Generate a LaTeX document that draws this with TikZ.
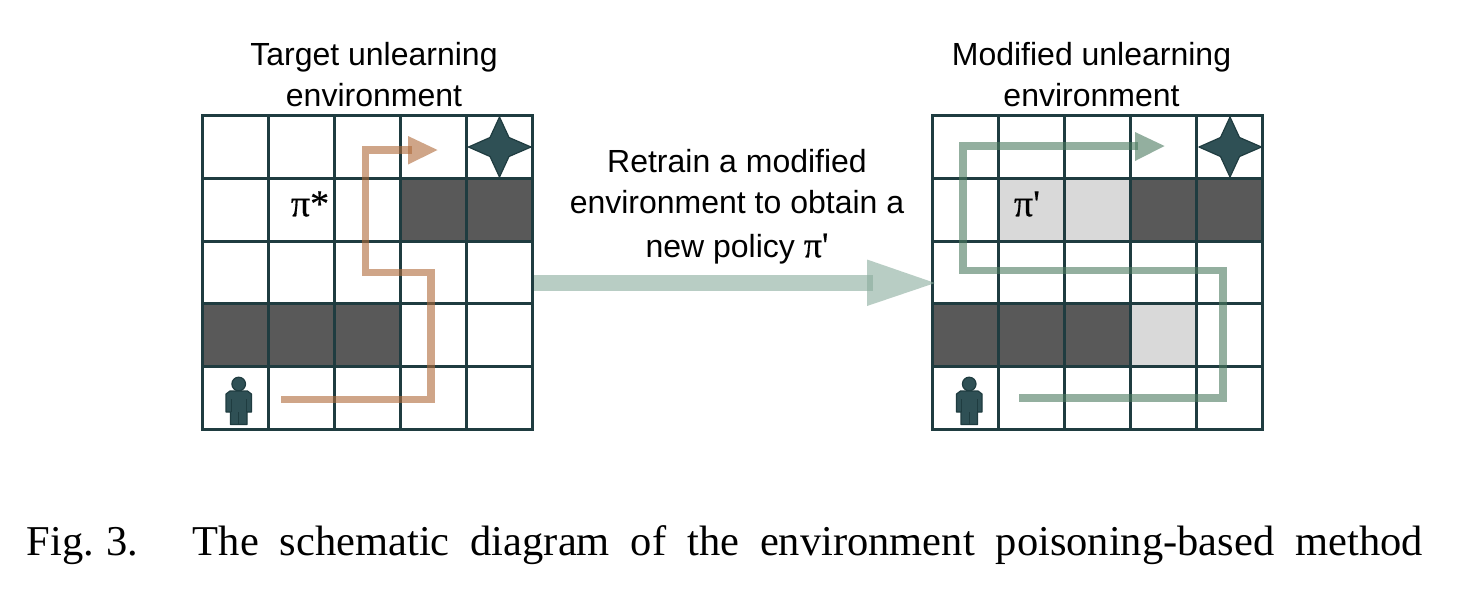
\documentclass[tikz,border=0pt]{standalone}
\usepackage{fontspec}
\setmainfont{Liberation Serif}
\newfontfamily\labelfont{Liberation Sans}
\newfontfamily\pifont[FakeBold=0.4]{Liberation Serif}
\usetikzlibrary{calc}
\definecolor{gridc}{HTML}{1F3C40}
\definecolor{wallc}{HTML}{595959}
\definecolor{lightc}{HTML}{D9D9D9}
\definecolor{iconc}{HTML}{2F5055}
\definecolor{pathA}{HTML}{AF6939}
\definecolor{pathB}{HTML}{4B7A5F}
\definecolor{bigc}{HTML}{8AAD9D}
\tikzset{
  x=1pt,y=-1pt,
  gridline/.style={draw=gridc,line width=3pt,line cap=rect},
  wall/.style={fill=wallc},
  light/.style={fill=lightc},
  icon/.style={fill=iconc,draw=gridc,line width=1.2pt,line join=round},
  route/.style={line width=7.6pt,line join=miter,line cap=butt,opacity=0.6},
  lbl/.style={font=\labelfont\fontsize{32}{41}\selectfont,align=center,text=black,inner sep=0pt},
  pilbl/.style={font=\pifont\fontsize{38}{38}\selectfont,text=black,inner sep=0pt},
}
\newcommand{\envgrid}[1]{%
  \begin{scope}[shift={(#1,0)}]
    \foreach \gx in {0,66,132,198,264,330}
      \draw[gridline] (\gx,115.5) -- (\gx,429.5);
    \foreach \gy in {115.5,178.3,241.1,303.9,366.7,429.5}
      \draw[gridline] (0,\gy) -- (330,\gy);
    % star
    \filldraw[icon] (297.5,117) -- (307,137.5) -- (329,147) -- (307,156.5) -- (297.5,177) -- (288,156.5) -- (266.5,147) -- (288,137.5) -- cycle;
    % person
    \filldraw[icon] (36.7,384) circle (6.8pt);
    \filldraw[icon] (28,391) -- (45.5,391) -- (49.5,394) -- (49.5,412) -- (45,412) -- (45,424.5) -- (28.5,424.5) -- (28.5,412) -- (24,412) -- (24,394) -- cycle;
    \draw[gridc,line width=0.9pt] (36.7,412) -- (36.7,424) (29,399) -- (29,412) (44.5,399) -- (44.5,412);
  \end{scope}}
\begin{document}
\begin{tikzpicture}
\useasboundingbox (0,0) rectangle (1458,600);
\fill[white] (0,0) rectangle (1458,600);
% cells
\fill[wall] (400,178.3) rectangle (532,241.1);
\fill[wall] (202,303.9) rectangle (400,366.7);
\fill[wall] (1130,178.3) rectangle (1262,241.1);
\fill[wall] (932.5,303.9) rectangle (1130,366.7);
\fill[light] (998.5,178.3) rectangle (1130,241.1);
\fill[light] (1130,303.9) rectangle (1196.5,366.7);
\envgrid{202}
\envgrid{932.5}
% titles
\node[lbl] (t1) at (374,75) {Target unlearning\\environment};
\node[lbl] (t2) at (1091.5,75) {Modified unlearning\\environment};
\node[lbl] (t3) at (737,206.5) {Retrain a modified\\environment to obtain a\\[3pt]new policy {\pifont\fontsize{36}{36}\selectfont π'}};
\node[pilbl] (p1) at (310,204) {π*};
\node[pilbl] (p2) at (1027,204) {π'};
% left route
\coordinate (a0) at (281,399.5);
\coordinate (a1) at (431,399.5);
\coordinate (a2) at (431,272.5);
\coordinate (a3) at (365.5,272.5);
\coordinate (a4) at (365.5,150);
\coordinate (a5) at (412,150);
\draw[route,draw=pathA] (a0) -- (a1) -- (a2) -- (a3) -- (a4) -- (a5);
\fill[pathA,opacity=0.6] (408,136) -- (437.5,150) -- (408,164.5) -- cycle;
% right route
\coordinate (b0) at (1019,398);
\coordinate (b1) at (1223,398);
\coordinate (b2) at (1223,270.5);
\coordinate (b3) at (963,270.5);
\coordinate (b4) at (963,146);
\coordinate (b5) at (1138,146);
\draw[route,draw=pathB] (b0) -- (b1) -- (b2) -- (b3) -- (b4) -- (b5);
\fill[pathB,opacity=0.6] (1135,132) -- (1164.5,146) -- (1135,161) -- cycle;
% big arrow
\coordinate (c0) at (534,283);
\coordinate (c1) at (873,283);
\draw[line width=16.5pt,draw=bigc,opacity=0.6] (c0) -- (c1);
\fill[bigc,opacity=0.6] (867,259.5) -- (935,283) -- (867,306) -- cycle;
% caption
\node[anchor=base west,inner sep=0pt,font=\fontsize{42.5}{42.5}\selectfont,text=black] (cap) at (26.5,555.5)
  {\makebox[1396pt][s]{Fig.\kern12pt 3.\hspace{55pt}The schematic diagram of the environment poisoning-based method}};
\end{tikzpicture}
\end{document}
